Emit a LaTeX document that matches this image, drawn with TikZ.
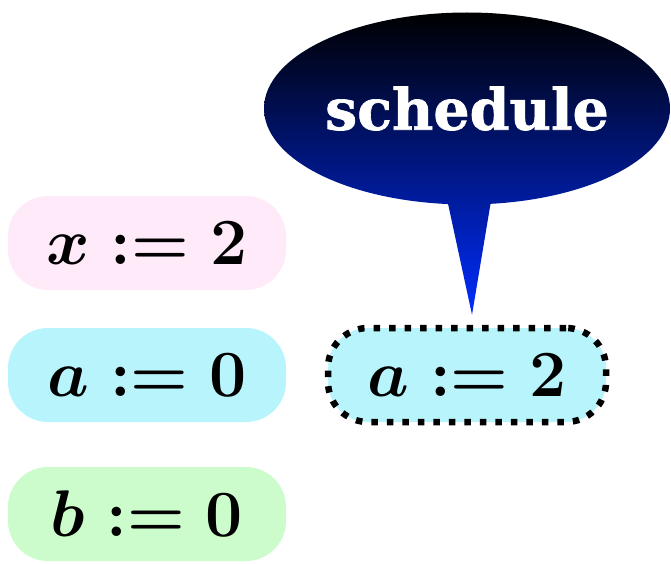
\RequirePackage{fix-cm}
\documentclass[tikz,border=0pt]{standalone}
\usepackage{fontspec}
\newfontfamily\slabfont{DejaVu Serif}[FakeBold=1.2]
\usetikzlibrary{shapes.callouts,calc}
\definecolor{pinkfill}{RGB}{255,234,250}
\definecolor{cyanfill}{RGB}{184,244,252}
\definecolor{greenfill}{RGB}{204,252,204}
\definecolor{tipblue}{RGB}{0,45,255}
\tikzset{
  varbox/.style={rounded corners=40pt, minimum width=278pt, minimum height=94pt,
    inner sep=0pt, font=\fontsize{66}{70}\selectfont\boldmath},
  selbox/.style={draw=black, line width=6.5pt, dash pattern=on 6.5pt off 9pt},
  bubble/.style={ellipse callout, minimum width=406pt, minimum height=192pt, inner sep=0pt,
    callout pointer arc=12, top color=black, bottom color=tipblue, text=white,
    font=\fontsize{57}{60}\selectfont\slabfont\bfseries}
}
\begin{document}
\begin{tikzpicture}[x=1pt,y=-1pt]
\useasboundingbox (0,0) rectangle (671,564);
\node[varbox, fill=pinkfill] (x2) at (147,243) {$x := 2$};
\node[varbox, fill=cyanfill] (a0) at (147,375) {$a := 0$};
\node[varbox, fill=greenfill] (b0) at (147,514) {$b := 0$};
\node[varbox, selbox, fill=cyanfill] (a2) at (467,375) {$a := 2$};
\node[bubble, callout absolute pointer={($(a2.north)+(5,-10)$)}] (sch) at (467,108.5) {schedule};
\end{tikzpicture}
\end{document}
